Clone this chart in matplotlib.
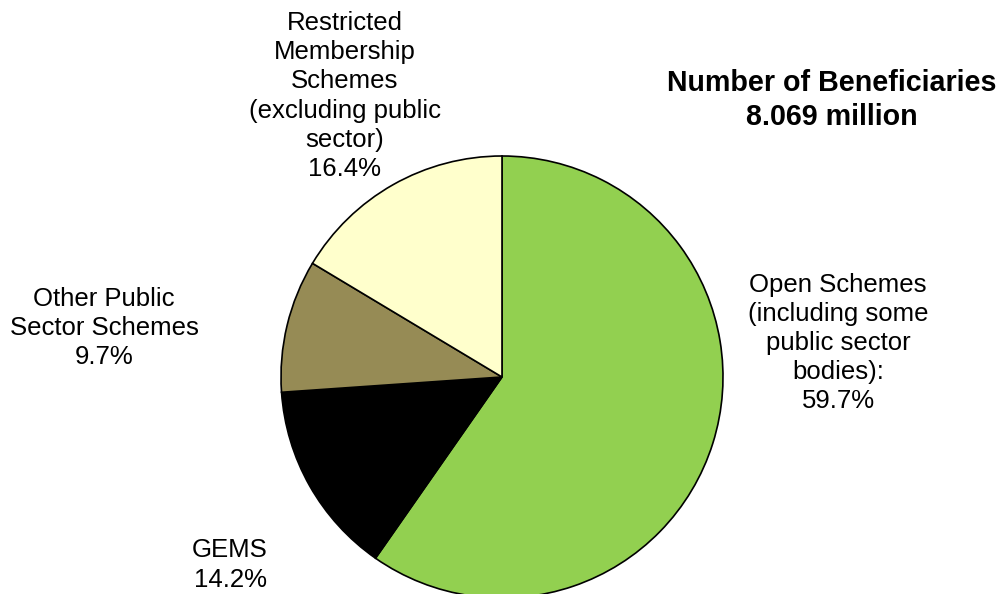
import matplotlib.pyplot as plt

# data
segments = ["Open Schemes\n(including some\npublic sector\nbodies):",
            "GEMS",
            "Other Public\nSector Schemes",
            "Restricted\nMembership\nSchemes\n(excluding public\nsector)"]
shares = [59.7, 14.2, 9.7, 16.4]
colours = ["#92D050", "#000000", "#968B55", "#FFFFCC"]
title = "Number of Beneficiaries\n8.069 million"

# label centres in pixel coords (x, y from top)
label_pos = [(838, 343), (230, 565), (104, 328), (345, 96)]

W, H = 1000, 594
fig = plt.figure(figsize=(10, 5.94), dpi=100)
ax = fig.add_axes([0, 0, 1, 1])

ax.pie(shares, colors=colours, startangle=90, counterclock=False,
       center=(502, H - 377), radius=221, frame=True,
       wedgeprops=dict(edgecolor="black", linewidth=1.2))
ax.set_xlim(0, W)
ax.set_ylim(0, H)
ax.set_aspect("equal")
ax.axis("off")

for name, val, (x, y) in zip(segments, shares, label_pos):
    ax.text(x, H - y, f"{name}\n{val:.1f}%", ha="center", va="center",
            fontsize=18.5, family="Liberation Sans", linespacing=1.27)

ax.text(832, H - 100, title, ha="center", va="center", fontsize=20.6,
        fontweight="bold", family="Liberation Sans", linespacing=1.3)

fig.savefig("out.png", dpi=100)
